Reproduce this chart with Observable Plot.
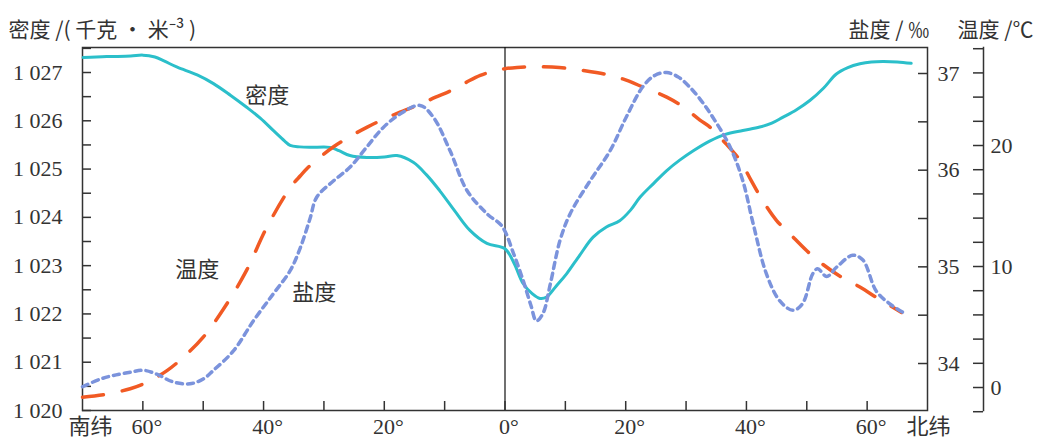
<!DOCTYPE html>
<html><head><meta charset="utf-8">
<script src="https://cdn.jsdelivr.net/npm/d3@7"></script>
<script src="https://cdn.jsdelivr.net/npm/@observablehq/plot@0.6"></script>
<style>body{margin:0;background:#fff}</style>
</head><body><div id="chart"></div>
<script>
// ---- data ----
const densLat = [-69.9,-66,-62,-60,-58,-56.5,-54.3,-51,-48.3,-45.5,-42.8,-40.5,-38.4,-36.5,-35.6,-34,-32.3,-29,-27.5,-25.7,-22.9,-20,-17.9,-15.2,-13,-10.8,-8.3,-5.8,-3,0,1.5,3,4.5,5.8,6.9,8.5,10.2,12.4,14.6,16.8,19,20.8,22.4,24.6,26.8,29,31.2,33.9,36.5,39.4,42.2,44.2,46,48.3,50.5,52.8,54.9,56.8,58.8,60.7,62.6,65,67.3];
const densVal = [1027.31,1027.33,1027.34,1027.36,1027.32,1027.24,1027.11,1026.95,1026.77,1026.53,1026.28,1026.05,1025.80,1025.58,1025.49,1025.46,1025.45,1025.45,1025.38,1025.28,1025.24,1025.25,1025.28,1025.14,1024.88,1024.55,1024.13,1023.73,1023.46,1023.35,1023.05,1022.63,1022.42,1022.32,1022.35,1022.58,1022.83,1023.22,1023.59,1023.80,1023.93,1024.15,1024.42,1024.70,1024.97,1025.19,1025.38,1025.58,1025.72,1025.80,1025.87,1025.95,1026.07,1026.23,1026.42,1026.68,1026.97,1027.10,1027.18,1027.22,1027.23,1027.22,1027.19];

const tempLat = [-70,-66.5,-62.1,-59.3,-56,-53.3,-50,-46.1,-42.8,-39.5,-35.6,-33.9,-32.8,-30.5,-28.4,-25.5,-22.9,-20,-17.4,-14.1,-11.5,-9.1,-6.5,-4.1,-1.5,0,2,4.6,9,12.9,16.5,19.5,23,26.8,29.5,32.3,34,36.5,38.9,40.8,42.7,45,47.2,50,52.6,55.5,58.8,62,65.7];
const tempVal = [-0.8,-0.6,-0.1,0.44,1.4,2.5,4.16,6.9,9.7,13.2,16.5,17.5,18.1,19.1,19.9,20.8,21.5,22.2,22.75,23.4,24.0,24.5,25.2,25.8,26.2,26.35,26.45,26.5,26.45,26.2,25.9,25.5,24.8,24.0,23.2,22.1,21.5,20.2,18.8,17.1,15.45,13.8,12.7,11.3,10.2,9.2,8.3,7.3,6.2];

const salLat = [-70,-67,-64.9,-62,-59.9,-57.7,-55,-52.2,-50,-48.3,-45,-41.7,-38.4,-35.6,-33.9,-32.3,-31.2,-28.4,-25.7,-22.9,-20.2,-17.4,-14.1,-11.9,-9.1,-6.3,-3,-0.5,1.4,3,4.3,5.2,6.3,7.5,9.1,10.8,14.1,17.4,20.1,22.8,24.8,26.8,28.8,30.6,32.5,34.4,37.3,39.4,41.1,43.3,45.5,47.7,49.3,51,51.8,53.3,55,57.6,59.3,61.5,63.7,65.9];
const salVal = [33.76,33.84,33.876,33.91,33.93,33.89,33.81,33.79,33.84,33.93,34.13,34.44,34.72,34.96,35.2,35.5,35.72,35.89,36.03,36.24,36.44,36.58,36.67,36.55,36.2,35.79,35.55,35.42,35.14,34.86,34.6,34.44,34.52,34.82,35.27,35.55,35.89,36.2,36.55,36.86,36.98,37.01,36.96,36.86,36.72,36.55,36.24,35.89,35.45,34.93,34.65,34.55,34.62,34.93,34.98,34.9,35.0,35.12,35.07,34.75,34.62,34.53];

// ---- axes / ticks ----
const latTicks = [-60,-50,-40,-30,-20,-10,0,10,20,30,40,50,60];
const latLabelTicks = [-60,-40,-20,0,20,40,60];
const equator = [0];
const densTicks = [1020,1021,1022,1023,1024,1025,1026,1027];
const densMinor = [1020,1020.5,1021,1021.5,1022,1022.5,1023,1023.5,1024,1024.5,1025,1025.5,1026,1026.5,1027,1027.5];
const salTicks = [34,35,36,37];
const salMinor = [34,34.5,35,35.5,36,36.5,37];
const tempTicks = [0,10,20];
const tempMinor = [-2,0,2,4,6,8,10,12,14,16,18,20,22,24,26,28];

const seriesLabelText = ["密度","温度","盐度"];
const seriesLabelLat = [-39.4,-51,-31.6];
const seriesLabelVal = [1026.52, 9.7, 34.73]; // in density, temperature, salinity units

const DENS = [1020, 1027.518];
const SAL = [33.514, 37.269];
const TEMP = [-1.9, 28.1];

const sal2y = s => DENS[0] + (s - SAL[0]) / (SAL[1] - SAL[0]) * (DENS[1] - DENS[0]);
const tmp2y = t => DENS[0] + (t - TEMP[0]) / (TEMP[1] - TEMP[0]) * (DENS[1] - DENS[0]);

const densData = densLat.map((x, i) => ({x, y: densVal[i]}));
const tempData = tempLat.map((x, i) => ({x, y: tmp2y(tempVal[i])}));
const salData = salLat.map((x, i) => ({x, y: sal2y(salVal[i])}));
const labelConv = [v => v, tmp2y, sal2y];
const labelData = seriesLabelText.map((t, i) => ({t, x: seriesLabelLat[i], y: labelConv[i](seriesLabelVal[i])}));

const W = 1039, H = 447, ML = 82, MR = 112, MT = 47, MB = 37;
const FW = W - ML - MR, FH = H - MT - MB;
const serif = "Liberation Serif, Times New Roman, serif";
const cjk = "Noto Sans CJK SC, sans-serif";
const ink = "#333";

const chart = Plot.plot({
  width: W, height: H,
  marginLeft: ML, marginRight: MR, marginTop: MT, marginBottom: MB,
  x: {domain: [-70, 70], axis: null},
  y: {domain: DENS, axis: null},
  style: {background: "#fff", overflow: "visible"},
  marks: [
    Plot.frame({stroke: ink, strokeWidth: 1.5}),
    Plot.frame({anchor: "right", dx: 56, stroke: ink, strokeWidth: 1.5}),
    Plot.ruleX(equator, {x: d => d, stroke: "#111", strokeWidth: 1.2}),
    // ticks
    Plot.tickY(densMinor, {y: d => d, insetRight: FW - 9, stroke: ink, strokeWidth: 1.5}),
    Plot.tickY(salMinor, {y: sal2y, insetLeft: FW - 9, stroke: ink, strokeWidth: 1.5}),
    Plot.tickY(tempMinor, {y: tmp2y, insetLeft: FW + 46, insetRight: -56, stroke: ink, strokeWidth: 1.5}),
    Plot.tickX(latTicks, {x: d => d, insetTop: FH - 9, stroke: ink, strokeWidth: 1.5}),
    // tick labels
    Plot.text(densTicks, {y: d => d, text: d => "1 " + String(d).slice(1), frameAnchor: "left", textAnchor: "end", dx: -20, fontSize: 22, fontFamily: serif, fill: ink}),
    Plot.text(salTicks, {y: sal2y, text: d => String(d), frameAnchor: "right", textAnchor: "start", dx: 10, fontSize: 22, fontFamily: serif, fill: ink}),
    Plot.text(tempTicks, {y: tmp2y, text: d => String(d), frameAnchor: "right", textAnchor: "start", dx: 63, fontSize: 22, fontFamily: serif, fill: ink}),
    Plot.text(latLabelTicks, {x: d => d, text: d => Math.abs(d) + "°", frameAnchor: "bottom", dx: 4, dy: 23, fontSize: 22, fontFamily: serif, fill: ink}),
    Plot.text(["南纬"], {text: d => d, frameAnchor: "bottom-left", textAnchor: "middle", dx: 8, dy: 23, fontSize: 22, fontFamily: cjk, fill: ink}),
    Plot.text(["北纬"], {text: d => d, frameAnchor: "bottom-right", textAnchor: "middle", dx: 1, dy: 23, fontSize: 22, fontFamily: cjk, fill: ink}),
    // titles
    Plot.text(["密度 /( 千克 · 米⁻³ )"], {text: d => d, frameAnchor: "top-left", textAnchor: "start", dx: -74, dy: -25, fontSize: 21, fontFamily: cjk, fill: ink}),
    Plot.text(["盐度 / ‰"], {text: d => d, frameAnchor: "top-right", textAnchor: "start", dx: -79, dy: -25, fontSize: 21, fontFamily: cjk, fill: ink}),
    Plot.text(["温度 /℃"], {text: d => d, frameAnchor: "top-right", textAnchor: "start", dx: 30, dy: -25, fontSize: 21, fontFamily: cjk, fill: ink}),
    // series
    Plot.line(densData, {x: "x", y: "y", stroke: "#2bbfca", strokeWidth: 3, curve: "catmull-rom"}),
    Plot.line(tempData, {x: "x", y: "y", stroke: "#f15a24", strokeWidth: 3.5, strokeDasharray: "21,19", curve: "catmull-rom"}),
    Plot.line(salData, {x: "x", y: "y", stroke: "#7b93dc", strokeWidth: 3.5, strokeDasharray: "6,5", curve: "catmull-rom"}),
    Plot.text(labelData, {x: "x", y: "y", text: "t", fontSize: 22, fontFamily: cjk, fill: ink})
  ]
});
document.getElementById("chart").appendChild(chart);
</script>
</body></html>
